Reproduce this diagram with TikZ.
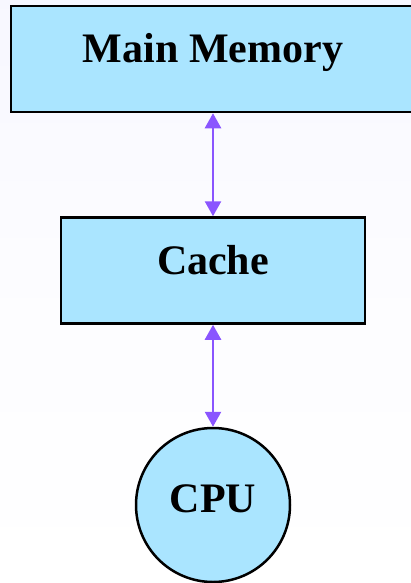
\documentclass[tikz,border=0pt]{standalone}
\usepackage{fontspec}
\setmainfont{Liberation Serif}
\usetikzlibrary{positioning, arrows.meta}
\definecolor{boxfill}{HTML}{AAE5FF}
\definecolor{linkcol}{HTML}{8A55FF}

\begin{document}
\begin{tikzpicture}[
  every node/.style={inner sep=0pt},
  unit/.style={draw=black, line width=2.5pt, fill=boxfill,
               font=\fontsize{42}{48}\selectfont\bfseries,
               text height=57pt, text depth=49pt},
  core/.style={circle, draw=black, line width=2.5pt, fill=boxfill,
               minimum size=154pt,
               font=\fontsize{42}{48}\selectfont\bfseries,
               text height=28pt, text depth=14pt},
  link/.style={{Triangle[width=16pt,length=15pt]}-{Triangle[width=16pt,length=15pt]},
               linkcol, line width=2.5pt}]
% background and frame
\shade[top color=blue!3, bottom color=white, middle color=blue!1]
  (0pt,0pt) rectangle (411pt,-583pt);
\useasboundingbox (0pt,0pt) rectangle (411pt,-583pt);

\node[unit, minimum width=404pt] (mem) at (213pt,-59pt) {Main Memory};
\node[unit, minimum width=304pt, below=103pt of mem] (cache) {Cache};
\node[core, below=102pt of cache] (cpu) {CPU};

\draw[link] (mem) -- (cache);
\draw[link] (cache) -- (cpu);
\end{tikzpicture}
\end{document}
